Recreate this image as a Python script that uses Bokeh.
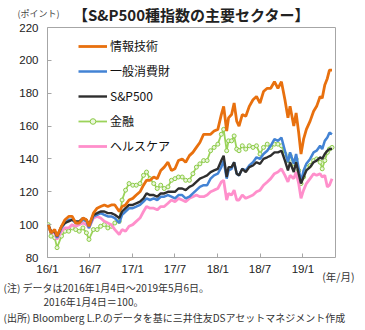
import pandas as pd
from bokeh.plotting import figure
from bokeh.models import Range1d, FixedTicker, Legend, LegendItem, Title, LinearAxis
from bokeh.embed import file_html
from bokeh.resources import INLINE

DATES = [
    "2016-01-04", "2016-01-16", "2016-02-01", "2016-02-11", "2016-03-01", "2016-03-16",
    "2016-04-01", "2016-04-16", "2016-05-01", "2016-05-16", "2016-06-01", "2016-06-16",
    "2016-06-27", "2016-07-16", "2016-08-01", "2016-08-16", "2016-09-01", "2016-09-16",
    "2016-10-01", "2016-10-16", "2016-11-04", "2016-11-16", "2016-12-01", "2016-12-16",
    "2017-01-01", "2017-01-16", "2017-02-01", "2017-02-16", "2017-03-01", "2017-03-16",
    "2017-04-01", "2017-04-16", "2017-05-01", "2017-05-16", "2017-06-01", "2017-06-16",
    "2017-07-01", "2017-07-16", "2017-08-01", "2017-08-16", "2017-09-01", "2017-09-16",
    "2017-10-01", "2017-10-16", "2017-11-01", "2017-11-16", "2017-12-01", "2017-12-16",
    "2018-01-01", "2018-01-16", "2018-01-26", "2018-02-08", "2018-02-16", "2018-03-01",
    "2018-03-12", "2018-03-23", "2018-04-02", "2018-04-16", "2018-05-01", "2018-05-16",
    "2018-06-01", "2018-06-16", "2018-07-01", "2018-07-16", "2018-08-01", "2018-08-16",
    "2018-09-01", "2018-09-16", "2018-10-01", "2018-10-16", "2018-10-29", "2018-11-07",
    "2018-11-23", "2018-12-03", "2018-12-14", "2018-12-24",
    "2019-01-04", "2019-01-16", "2019-02-01", "2019-02-16", "2019-03-01", "2019-03-16",
    "2019-03-25", "2019-04-05", "2019-04-16", "2019-04-25", "2019-05-06",
]

# 情報技術
IT = [
    100, 95, 97, 93, 99, 103, 105, 105, 101, 101, 104, 103, 99, 107, 110, 111, 112, 111, 112, 112, 108, 111, 112, 115,
    116, 118, 120, 124, 127, 127, 129, 128, 133, 135, 138, 133, 134, 139, 140, 138, 142, 144, 147, 150, 155, 155, 155, 157,
    158, 167, 172, 157, 165, 167, 174, 163, 160, 167, 166, 172, 176, 178, 174, 181, 183, 183, 187, 183, 187, 176, 165, 172,
    160, 168, 156, 143,
    152, 158, 163, 169, 172, 178, 177, 185, 189, 194, 194,
]
# 一般消費財
CONSUMER = [
    100, 95, 96, 92, 98, 101, 103, 103, 101, 101, 103, 102, 98, 105, 106, 107, 106, 105, 105, 104, 101, 106, 108, 110,
    110, 111, 112, 114, 116, 115, 116, 115, 117, 117, 118, 117, 116, 118, 118, 116, 117, 119, 121, 123, 124, 124, 128, 130,
    131, 135, 139, 128, 133, 134, 138, 131, 130, 134, 133, 136, 138, 141, 140, 143, 145, 148, 152, 151, 153, 145, 138, 144,
    137, 143, 134, 126,
    133, 137, 140, 144, 145, 148, 146, 151, 153, 156, 155,
]
# S&P500
SP500 = [
    100, 96, 96, 93, 99, 101, 102, 103, 102, 102, 104, 103, 100, 106, 107, 108, 108, 107, 107, 106, 104, 108, 110, 112,
    112, 113, 114, 116, 119, 118, 118, 117, 119, 119, 120, 120, 120, 122, 122, 121, 123, 124, 126, 128, 129, 130, 132, 133,
    134, 139, 142, 129, 135, 135, 138, 131, 130, 134, 132, 135, 136, 138, 137, 140, 141, 142, 144, 144, 145, 139, 133, 138,
    132, 138, 131, 125,
    129, 133, 135, 138, 139, 141, 140, 143, 145, 146, 146,
]
# 金融
FINANCIALS = [
    100, 93, 92, 86, 93, 96, 96, 98, 97, 96, 98, 95, 91, 97, 97, 99, 100, 98, 99, 101, 102, 115, 121, 125,
    124, 124, 125, 130, 132, 128, 125, 122, 124, 122, 123, 127, 128, 129, 129, 127, 127, 131, 135, 137, 139, 139, 145, 147,
    149, 155, 158, 145, 151, 151, 154, 146, 145, 148, 146, 148, 147, 148, 143, 147, 149, 147, 149, 149, 148, 143, 139, 142,
    137, 140, 133, 125,
    129, 135, 136, 139, 140, 138, 134, 139, 144, 146, 147,
]
# ヘルスケア
HEALTHCARE = [
    100, 95, 95, 91, 96, 98, 98, 100, 99, 100, 101, 100, 98, 104, 105, 104, 102, 101, 100, 97, 94, 97, 96, 99,
    100, 102, 104, 108, 111, 110, 110, 109, 111, 111, 113, 115, 114, 116, 115, 114, 116, 117, 118, 117, 117, 118, 120, 121,
    122, 126, 127, 115, 119, 118, 121, 115, 115, 118, 116, 117, 118, 120, 121, 124, 126, 128, 131, 132, 134, 130, 126, 130,
    128, 132, 125, 116,
    121, 125, 128, 131, 130, 131, 129, 130, 123, 124, 128,
]

SERIES_NAMES = ["情報技術", "一般消費財", "S&P500", "金融", "ヘルスケア"]
Y_TICKS = [80, 100, 120, 140, 160, 180, 200, 220]
X_TICK_DATES = ["2016-01-01", "2016-07-01", "2017-01-01", "2017-07-01",
                "2018-01-01", "2018-07-01", "2019-01-01"]
X_TICK_LABELS = ["16/1", "16/7", "17/1", "17/7", "18/1", "18/7", "19/1"]

TITLE = "【S&P500種指数の主要セクター】"
UNIT_Y = "(ポイント)"
UNIT_X = "(年/月)"
NOTE_1 = "(注) データは2016年1月4日～2019年5月6日。"
NOTE_2 = "2016年1月4日＝100。"
NOTE_3 = "(出所) Bloomberg L.P.のデータを基に三井住友DSアセットマネジメント作成"

FONT = "Noto Sans CJK JP"
NUM_FONT = "Liberation Sans"
x = pd.to_datetime(DATES)

p = figure(width=365, height=330, frame_width=288, frame_height=230,
           x_axis_type="datetime", output_backend="svg", toolbar_location=None,
           x_range=Range1d(pd.Timestamp("2016-01-01"), pd.Timestamp("2019-05-21")),
           y_range=Range1d(80, 220),
           min_border_left=47, min_border_right=30, min_border_top=27, min_border_bottom=73)
p.background_fill_color = "white"
p.border_fill_color = "white"
p.outline_line_color = "#a6a6a6"
p.outline_line_width = 1
p.grid.visible = False

tick_ms = [int(pd.Timestamp(d).value // 10**6) for d in X_TICK_DATES]
p.xaxis.ticker = FixedTicker(ticks=tick_ms)
p.xaxis.major_label_overrides = {t: l for t, l in zip(tick_ms, X_TICK_LABELS)}
p.yaxis.ticker = FixedTicker(ticks=Y_TICKS)

for ax in (p.xaxis[0], p.yaxis[0]):
    ax.axis_line_color = None
    ax.major_tick_in = 4
    ax.major_tick_out = 0
    ax.major_tick_line_color = "#a6a6a6"
    ax.minor_tick_line_color = None
    ax.major_label_text_font = NUM_FONT
    ax.major_label_text_font_size = "11.5px"
    ax.major_label_text_color = "#222222"
p.xaxis.major_label_standoff = 5
p.yaxis.major_label_standoff = 9

# top texts: unit label as a tick label, chart title as the axis label
p.extra_x_ranges = {"px": Range1d(0, 288)}
top = LinearAxis(x_range_name="px", ticker=FixedTicker(ticks=[0]),
                 major_label_overrides={0: UNIT_Y + "\u3000\u3000"},
                 axis_label=TITLE)
top.axis_line_color = None
top.major_tick_line_color = None
top.minor_tick_line_color = None
top.major_tick_in = 0
top.major_tick_out = 0
top.major_label_standoff = 8
top.major_label_text_font = FONT
top.major_label_text_font_size = "9px"
top.major_label_text_color = "#444444"
top.axis_label_standoff = -21
top.axis_label_text_font = FONT
top.axis_label_text_font_size = "15px"
top.axis_label_text_font_style = "bold"
top.axis_label_text_color = "#222222"
p.add_layout(top, "above")

r_fin = p.line(x, FINANCIALS, line_color="#9BD35A", line_width=1.8)
r_fin_m = p.scatter(x, FINANCIALS, size=4, marker="circle", line_color="#8CCB48",
                    fill_color="#EAF6DC", line_width=1)
r_hc = p.line(x, HEALTHCARE, line_color="#FF8FCB", line_width=2.8)
r_cons = p.line(x, CONSUMER, line_color="#4383D4", line_width=2.5)
r_sp = p.line(x, SP500, line_color="#2E2E2E", line_width=2.4)
r_it = p.line(x, IT, line_color="#E8700E", line_width=2.8)

legend = Legend(items=[
    LegendItem(label=SERIES_NAMES[0], renderers=[r_it]),
    LegendItem(label=SERIES_NAMES[1], renderers=[r_cons]),
    LegendItem(label=SERIES_NAMES[2], renderers=[r_sp]),
    LegendItem(label=SERIES_NAMES[3], renderers=[r_fin, r_fin_m]),
    LegendItem(label=SERIES_NAMES[4], renderers=[r_hc]),
], location=(31, 103))
legend.padding = 0
legend.margin = 0
legend.spacing = 8
legend.glyph_width = 29
legend.glyph_height = 14
legend.label_height = 14
legend.label_standoff = 3
legend.label_text_font = FONT
legend.label_text_font_size = "12px"
legend.label_text_color = "#111111"
legend.border_line_color = None
legend.background_fill_alpha = 0
p.add_layout(legend)


def below_title(text, size, align, offset, standoff, valign="middle"):
    t = Title(text=text, align=align, offset=offset, standoff=standoff,
              vertical_align=valign, text_font=FONT, text_font_size=size,
              text_font_style="normal", text_color="#333333")
    p.add_layout(t, "below")


below_title(UNIT_X, "10.5px", "right", -19, -17, valign="top")
below_title(NOTE_1, "10px", "left", -44, 3)
below_title(NOTE_2, "10px", "left", -4, -10)
below_title(NOTE_3, "10px", "left", -44, 8)

open("out.html", "w").write(file_html(p, INLINE))
